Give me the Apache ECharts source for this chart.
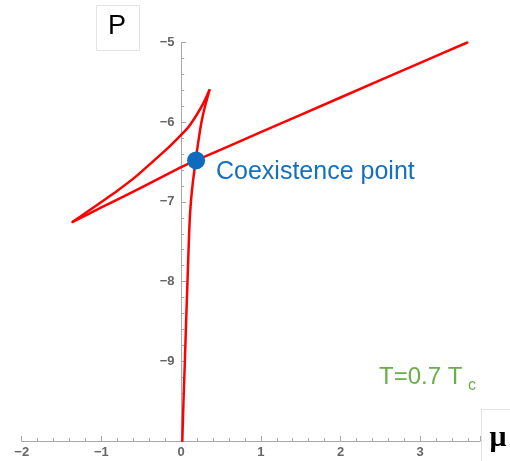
<!DOCTYPE html>
<html>
<head>
<meta charset="utf-8">
<script src="https://cdn.jsdelivr.net/npm/echarts@6/dist/echarts.min.js"></script>
<style>
  html, body { margin: 0; padding: 0; background: #fff; }
  #chart { width: 510px; height: 461px; }
</style>
</head>
<body>
<div id="chart"></div>
<script>
// 气相分支（从底部竖直向上到尖点）
var gasMu = [0.015, 0.03, 0.047, 0.063, 0.08, 0.097, 0.107, 0.123, 0.148, 0.18, 0.215, 0.255, 0.30, 0.355]
var gasP = [-10, -9.5, -9, -8.5, -8, -7.5, -7.25, -7, -6.75, -6.5, -6.25, -6.0, -5.8, -5.60]

// 不稳定分支（尖点回到左侧尖点）
var unstableMu = [0.355, 0.28, 0.2, 0.1, 0, -0.15, -0.35, -0.565, -0.8, -1.0, -1.2, -1.36]
var unstableP = [-5.60, -5.76, -5.90, -6.05, -6.16, -6.31, -6.49, -6.68, -6.86, -7.0, -7.14, -7.25]

// 液相分支（左侧尖点向右上方延伸）
var liquidMu = [-1.36, -1.0, -0.5, 0, 0.188, 1.0, 2.0, 3.0, 3.59]
var liquidP = [-7.25, -7.07, -6.82, -6.565, -6.48, -6.125, -5.69, -5.255, -5.0]

// 共存点
var coexistMu = 0.188
var coexistP = -6.48

var xTicks = [-2, -1, 0, 1, 2, 3]
var yTicks = [-9, -8, -7, -6, -5]

function toPairs(xs, ys) {
  return xs.map(function (x, i) { return [x, ys[i]] })
}

function minusLabel(v) {
  if (Math.abs(v - Math.round(v)) > 1e-6) return ''
  return String(v).replace('-', '\u2212')
}

function branch(xs, ys) {
  return {
    type: 'line',
    data: toPairs(xs, ys),
    showSymbol: false,
    symbol: 'none',
    smooth: 0.2,
    lineStyle: { color: '#ff0000', width: 2.5, join: 'round', cap: 'round' },
    z: 2
  }
}

var myChart = echarts.init(document.getElementById('chart'))

var axisGray = '#a8a8a8'
var labelGray = '#666'

// y轴放在 μ=0 处：grid 左边 21.7px 对应 μ=-2，μ=0 在 181.5px
var yAxisOffset = -(181.5 - 21.7)

var option = {
  animation: false,
  grid: { left: 21.7, top: 42.5, right: 30, bottom: 20, outerBoundsMode: 'none' },
  xAxis: {
    type: 'value',
    min: -2,
    max: 3.75,
    interval: 1,
    axisLine: { onZero: false, lineStyle: { color: axisGray, width: 1 } },
    axisTick: { inside: true, length: 5, lineStyle: { color: axisGray } },
    minorTick: { show: true, splitNumber: 5, length: 3, lineStyle: { color: axisGray } },
    splitLine: { show: false },
    axisLabel: {
      color: labelGray, fontSize: 13, margin: 5, showMaxLabel: false,
      fontFamily: 'Liberation Sans', fontWeight: 'bold',
      formatter: minusLabel
    }
  },
  yAxis: {
    type: 'value',
    min: -10,
    max: -5,
    interval: 1,
    offset: yAxisOffset,
    axisLine: { onZero: false, lineStyle: { color: axisGray, width: 1 } },
    axisTick: { inside: true, length: 4.5, lineStyle: { color: axisGray } },
    minorTick: { show: true, splitNumber: 5, length: 2.7, lineStyle: { color: axisGray } },
    splitLine: { show: false },
    axisLabel: {
      color: labelGray, fontSize: 13, margin: 7, showMinLabel: false,
      fontFamily: 'Liberation Sans', fontWeight: 'bold',
      formatter: minusLabel
    }
  },
  series: [
    branch(gasMu, gasP),
    branch(unstableMu, unstableP),
    branch(liquidMu, liquidP),
    {
      type: 'scatter',
      data: [[coexistMu, coexistP]],
      symbolSize: 18,
      itemStyle: { color: '#0f6cbd', opacity: 1 },
      z: 3
    }
  ],
  graphic: [
    {
      type: 'rect',
      shape: { x: 96.5, y: 5.5, width: 43, height: 45 },
      style: { fill: '#fff', stroke: '#e4e4e4', lineWidth: 1 }
    },
    {
      type: 'text',
      style: {
        x: 117, y: 27, text: 'P', fill: '#000',
        font: '27px "Liberation Sans"', textAlign: 'center', textVerticalAlign: 'middle'
      }
    },
    {
      type: 'rect',
      shape: { x: 481.5, y: 409.5, width: 40, height: 60 },
      style: { fill: '#fff', stroke: '#e4e4e4', lineWidth: 1 }
    },
    {
      type: 'text',
      style: {
        x: 498, y: 438, text: '\u03bc', fill: '#000',
        font: 'bold 30px "Liberation Serif"', textAlign: 'center', textVerticalAlign: 'middle'
      }
    },
    {
      type: 'text',
      style: {
        x: 216, y: 172, text: 'Coexistence point', fill: '#1570bf',
        font: '25px "Liberation Sans"', textAlign: 'left', textVerticalAlign: 'middle'
      }
    },
    {
      type: 'text',
      style: {
        x: 379, y: 377, text: 'T=0.7 T', fill: '#6aad4a',
        font: '24px "Liberation Sans"', textAlign: 'left', textVerticalAlign: 'middle'
      }
    },
    {
      type: 'text',
      style: {
        x: 468, y: 386, text: 'c', fill: '#6aad4a',
        font: '16px "Liberation Sans"', textAlign: 'left', textVerticalAlign: 'middle'
      }
    }
  ]
}

myChart.setOption(option)
</script>
</body>
</html>
